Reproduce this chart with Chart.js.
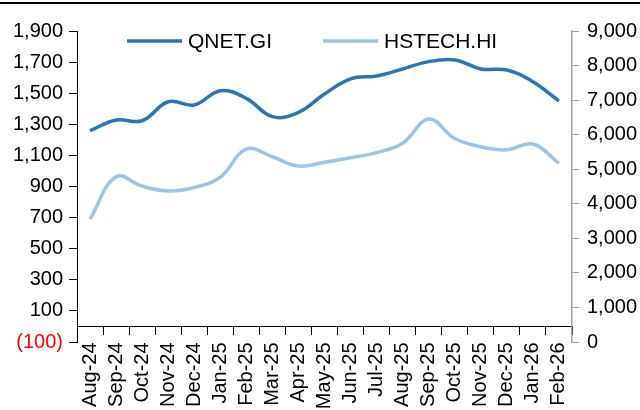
<!DOCTYPE html>
<html lang="en">

<head>
    <meta charset="UTF-8">
    <title>QNET.GI vs HSTECH.HI</title>
    <script src="https://cdn.jsdelivr.net/npm/chart.js"></script>
    <style>
        html, body { margin: 0; padding: 0; background: #fff; }
        .janela { position: relative; width: 640px; height: 410px; overflow: hidden; }
        .regua { position: absolute; left: 0; top: 2px; width: 640px; height: 2px; background: #000; }
        canvas { position: absolute; left: 0; top: 0; }
    </style>
</head>

<body>
    <div class="janela">
        <canvas id="grafico" width="640" height="410"></canvas>
        <div class="regua"></div>
    </div>

<script>
    // categorias (mensal)
    const meses = ['Aug-24', 'Sep-24', 'Oct-24', 'Nov-24', 'Dec-24', 'Jan-25', 'Feb-25', 'Mar-25', 'Apr-25', 'May-25',
        'Jun-25', 'Jul-25', 'Aug-25', 'Sep-25', 'Oct-25', 'Nov-25', 'Dec-25', 'Jan-26', 'Feb-26'];

    // séries
    const qnet = [1259, 1328, 1323, 1445, 1424, 1516, 1467, 1349, 1377, 1495, 1592, 1611, 1656, 1703, 1714, 1656, 1649, 1574, 1450];
    const hstech = [3560, 4780, 4510, 4370, 4470, 4770, 5580, 5360, 5090, 5200, 5330, 5480, 5750, 6450, 5890, 5650, 5560, 5730, 5170];

    // eixos
    const eixoEsq = { min: -100, max: 1900, passo: 200 };
    const eixoDir = { min: 0, max: 9000, passo: 1000 };

    const fonte = '"Liberation Sans", Arial, sans-serif';

    function formatar(v) {
        const s = Math.abs(v).toLocaleString('en-US');
        return v < 0 ? '(' + s + ')' : s;
    }

    // legenda desenhada dentro da área do gráfico
    const legendaPlugin = {
        id: 'legenda',
        afterDatasetsDraw(chart) {
            const ctx = chart.ctx;
            const area = chart.chartArea;
            const y = area.top + 10;
            let x = area.left + 50;
            ctx.save();
            ctx.font = '21px ' + fonte;
            ctx.textBaseline = 'middle';
            chart.data.datasets.forEach(ds => {
                ctx.strokeStyle = ds.borderColor;
                ctx.lineWidth = 3.5;
                ctx.beginPath();
                ctx.moveTo(x, y);
                ctx.lineTo(x + 55, y);
                ctx.stroke();
                ctx.fillStyle = '#000';
                ctx.fillText(ds.label, x + 61, y + 1);
                x += 196;
            });
            ctx.restore();
        }
    };

    const dados = {
        labels: meses,
        datasets: [
            {
                label: 'QNET.GI',
                data: qnet,
                yAxisID: 'yL',
                borderColor: '#2e75b6',
                borderWidth: 3.5,
                pointRadius: 0,
                tension: 0.4,
                fill: false
            },
            {
                label: 'HSTECH.HI',
                data: hstech,
                yAxisID: 'yR',
                borderColor: '#9dc3e6',
                borderWidth: 3.5,
                pointRadius: 0,
                tension: 0.4,
                fill: false
            }
        ]
    };

    const config = {
        type: 'line',
        data: dados,
        options: {
            responsive: false,
            animation: false,
            layout: { padding: { top: 31, bottom: 68, left: 0, right: 0 } },
            plugins: {
                legend: { display: false },
                tooltip: { enabled: false }
            },
            scales: {
                x: {
                    type: 'category',
                    position: { yL: 0 },
                    offset: true,
                    border: { display: true, color: '#000', width: 1 },
                    grid: {
                        offset: true,
                        drawOnChartArea: false,
                        drawTicks: true,
                        tickLength: 8,
                        color: '#000'
                    },
                    ticks: {
                        autoSkip: false,
                        minRotation: 90,
                        maxRotation: 90,
                        padding: 8,
                        color: '#000',
                        font: { family: fonte, size: 20 }
                    }
                },
                yL: {
                    type: 'linear',
                    position: 'left',
                    min: eixoEsq.min,
                    max: eixoEsq.max,
                    afterFit: s => { s.width = 77; },
                    border: { display: true, color: '#000', width: 1 },
                    grid: { drawOnChartArea: false, tickLength: 8, color: '#000' },
                    ticks: {
                        stepSize: eixoEsq.passo,
                        padding: 6,
                        font: { family: fonte, size: 20 },
                        color: c => c.tick && c.tick.value < 0 ? '#ff0000' : '#000',
                        callback: v => formatar(v)
                    }
                },
                yR: {
                    type: 'linear',
                    position: 'right',
                    min: eixoDir.min,
                    max: eixoDir.max,
                    afterFit: s => { s.width = 68; },
                    border: { display: true, color: '#a0a0a0', width: 1.5 },
                    grid: { drawOnChartArea: false, tickLength: 7, color: '#a0a0a0' },
                    ticks: {
                        stepSize: eixoDir.passo,
                        padding: 8,
                        font: { family: fonte, size: 20 },
                        color: '#000',
                        callback: v => formatar(v)
                    }
                }
            }
        },
        plugins: [legendaPlugin]
    };

    new Chart(document.getElementById('grafico'), config);
</script>
</body>

</html>
